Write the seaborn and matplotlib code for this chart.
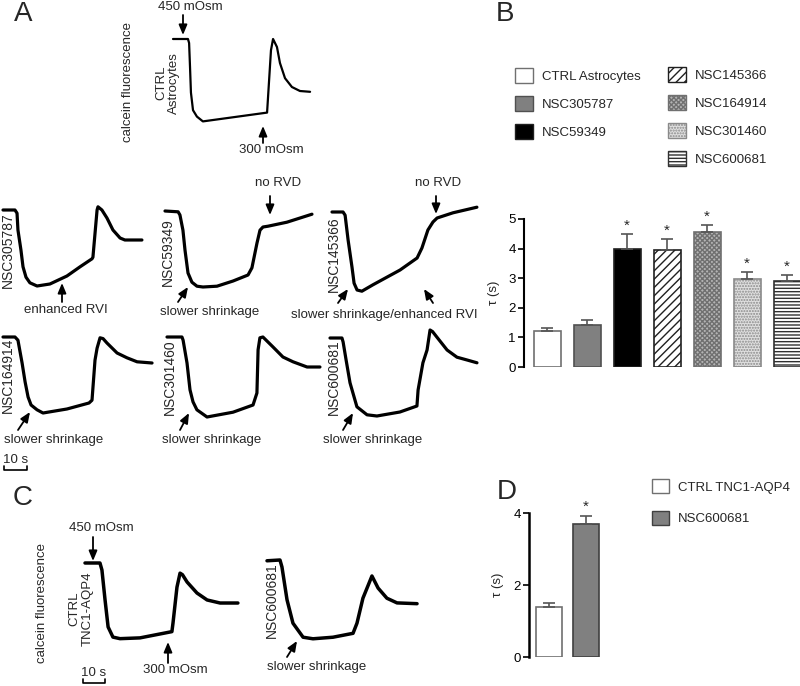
import matplotlib
matplotlib.use("Agg")
import matplotlib.pyplot as plt
import seaborn as sns
from matplotlib.patches import Patch

# ---------------- data ----------------
# Panel B: tau (s) per condition, primary astrocytes
b_groups = ["CTRL Astrocytes", "NSC305787", "NSC59349", "NSC145366",
            "NSC164914", "NSC301460", "NSC600681"]
b_tau = [1.23, 1.41, 3.98, 3.94, 4.56, 2.96, 2.90]
b_sem = [0.08, 0.17, 0.50, 0.38, 0.23, 0.24, 0.20]
b_sig = [False, False, True, True, True, True, True]
b_yticks = [0, 1, 2, 3, 4, 5]

# Panel D: tau (s), TNC1-AQP4 cells
d_groups = ["CTRL TNC1-AQP4", "NSC600681"]
d_tau = [1.40, 3.69]
d_sem = [0.09, 0.24]
d_sig = [False, True]
d_yticks = [0, 2, 4]

# Calcein traces: time (s) and normalized fluorescence
ctrl_astro_t = [0, 6.5, 7.0, 7.4, 7.8, 8.7, 10.4, 13.0, 40.9, 42.6, 43.5, 45.2, 46.5, 48.7, 51.7, 55.2, 59.6]
ctrl_astro_f = [1.0, 1.0, 0.95, 0.65, 0.33, 0.11, 0.03, -0.03, 0.08, 0.86, 1.0, 0.9, 0.7, 0.51, 0.4, 0.35, 0.34]

nsc305787_t = [0, 5.2, 6.1, 6.5, 7.8, 8.7, 10.0, 11.7, 14.8, 20.4, 27.8, 33.5, 38.7, 39.1, 40.9, 41.3, 43.0, 45.2, 47.8, 50.9, 53.0, 60.4]
nsc305787_f = [1.0, 1.0, 0.96, 0.75, 0.5, 0.29, 0.16, 0.09, 0.05, 0.075, 0.175, 0.29, 0.39, 0.41, 1.0, 1.04, 1.0, 0.9, 0.75, 0.65, 0.625, 0.625]

nsc59349_t = [0, 5.7, 6.5, 7.8, 8.7, 10.0, 11.7, 13.9, 16.5, 22.6, 29.6, 36.1, 37.8, 40.0, 41.3, 42.6, 44.8, 53.0, 63.9]
nsc59349_f = [1.0, 0.99, 0.95, 0.76, 0.51, 0.225, 0.11, 0.06, 0.05, 0.06, 0.125, 0.2, 0.29, 0.6, 0.76, 0.8, 0.81, 0.86, 0.96]

nsc145366_t = [0, 4.8, 5.7, 7.0, 8.7, 9.6, 10.9, 13.0, 17.8, 29.6, 37.0, 39.1, 41.7, 43.9, 45.7, 52.6, 63.0]
nsc145366_f = [1.0, 1.0, 0.96, 0.65, 0.31, 0.11, 0.025, 0.01, 0.09, 0.275, 0.425, 0.55, 0.775, 0.875, 0.925, 0.99, 1.06]

nsc164914_t = [0, 5.2, 6.5, 8.3, 9.6, 10.9, 12.2, 14.8, 17.4, 27.8, 37.4, 38.7, 40.0, 40.9, 42.2, 43.5, 45.2, 49.6, 53.9, 58.3, 64.8]
nsc164914_f = [1.0, 1.0, 0.96, 0.675, 0.44, 0.25, 0.15, 0.09, 0.05, 0.1, 0.175, 0.21, 0.71, 0.86, 0.99, 0.98, 0.925, 0.8, 0.74, 0.69, 0.675]

nsc301460_t = [0, 6.5, 7.0, 8.7, 10.0, 11.3, 13.0, 17.4, 28.7, 37.4, 39.1, 39.6, 40.4, 41.7, 46.1, 50.4, 54.8, 60.9, 66.5]
nsc301460_f = [1.0, 1.0, 0.96, 0.675, 0.34, 0.19, 0.09, 0.0, 0.06, 0.15, 0.3, 0.84, 0.99, 1.0, 0.875, 0.75, 0.69, 0.625, 0.625]

nsc600681a_t = [0, 5.2, 5.7, 7.0, 8.7, 11.7, 16.1, 20.4, 30.4, 37.8, 38.3, 40.4, 42.2, 43.5, 44.6, 46.5, 50.9, 55.2, 59.6, 63.9]
nsc600681a_f = [1.0, 1.0, 0.95, 0.725, 0.44, 0.14, 0.04, 0.025, 0.075, 0.15, 0.35, 0.69, 0.85, 1.1, 1.08, 1.01, 0.85, 0.76, 0.725, 0.69]

ctrl_tnc_t = [0, 6.8, 7.7, 9.1, 10.5, 12.7, 15.9, 25.0, 39.5, 40.0, 41.8, 43.2, 44.3, 46.4, 50.9, 55.5, 61.4, 69.5]
ctrl_tnc_f = [1.0, 1.0, 0.91, 0.53, 0.18, 0.05, 0.03, 0.04, 0.12, 0.23, 0.69, 0.87, 0.85, 0.756, 0.615, 0.526, 0.487, 0.487]

nsc600681c_t = [0, 5.9, 6.8, 9.1, 11.8, 16.4, 20.9, 30.0, 39.1, 40.9, 43.6, 47.7, 50.5, 54.5, 59.1, 68.2]
nsc600681c_f = [0.99, 1.0, 0.91, 0.49, 0.19, 0.01, -0.01, 0.01, 0.06, 0.19, 0.51, 0.795, 0.64, 0.51, 0.45, 0.44]

scale_bar_s = 10

# ---------------- style ----------------
sns.set_theme(style="ticks")
plt.rcParams["font.family"] = ["Liberation Sans", "DejaVu Sans"]
plt.rcParams["hatch.linewidth"] = 1.0

W, H = 800, 686
fig = plt.figure(figsize=(8, 6.86), dpi=100)
fig.patch.set_facecolor("white")

FS = 9.5

def px_axes(x0, y0, x1, y1, **kw):
    return fig.add_axes([x0 / W, 1 - y1 / H, (x1 - x0) / W, (y1 - y0) / H], **kw)

def trace_axes(x0, ytop, sx, sy, tmax=75, fmin=-0.8, fmax=1.3):
    ybot = ytop + (1 - fmin) * sy
    yt = ytop - (fmax - 1) * sy
    ax = px_axes(x0, yt, x0 + tmax * sx, ybot)
    ax.set_xlim(0, tmax)
    ax.set_ylim(fmin, fmax)
    ax.axis("off")
    return ax

def draw_trace(ax, t, f, lw):
    sns.lineplot(x=t, y=f, ax=ax, color="black", linewidth=lw,
                 estimator=None, sort=False)
    for ln in ax.lines:
        ln.set_clip_on(False)
        ln.set_solid_joinstyle("round")

# ---------------- traces ----------------
ax_ctrl = trace_axes(173, 39, 2.3, 80)
draw_trace(ax_ctrl, ctrl_astro_t, ctrl_astro_f, 1.6)

row_a = [
    (3, 210, nsc305787_t, nsc305787_f),
    (165, 211, nsc59349_t, nsc59349_f),
    (332, 212, nsc145366_t, nsc145366_f),
    (3, 337, nsc164914_t, nsc164914_f),
    (167, 337, nsc301460_t, nsc301460_f),
    (330, 338, nsc600681a_t, nsc600681a_f),
]
trace_axes_list = []
for x0, yt, t, f in row_a:
    a = trace_axes(x0, yt, 2.3, 80)
    draw_trace(a, t, f, 2.3)
    trace_axes_list.append(a)

# scale bar panel A (in the NSC164914 trace axes, time units)
a_sb = trace_axes_list[3]
a_sb.plot([0.4, 0.4, 0.4 + scale_bar_s, 0.4 + scale_bar_s], [-0.61, -0.66, -0.66, -0.61],
          color="black", lw=1.2, clip_on=False)
a_sb.text(0.4 + scale_bar_s / 2, -0.54, "10 s", ha="center", va="center", fontsize=FS)

ax_ctnc = trace_axes(85, 563, 2.2, 78)
draw_trace(ax_ctnc, ctrl_tnc_t, ctrl_tnc_f, 2.5)
ax_ctnc.plot([-0.9, -0.9, -0.9 + scale_bar_s, -0.9 + scale_bar_s], [-0.49, -0.54, -0.54, -0.49],
             color="black", lw=1.2, clip_on=False)
ax_ctnc.text(-0.9 + scale_bar_s / 2, -0.41, "10 s", ha="center", va="center", fontsize=FS)

ax_c2 = trace_axes(267, 560, 2.2, 78)
draw_trace(ax_c2, nsc600681c_t, nsc600681c_f, 2.5)

# ---------------- panel B bars ----------------
b_face = ["white", "#808080", "black", "white", "#b4b4b4", "#e0e0e0", "white"]
b_edge = ["#707070", "#505050", "#202020", "#202020", "#707070", "#8a8a8a", "#303030"]
b_hatch = [None, None, None, "////", "xxxxxxx", "......", "-----"]

axB = px_axes(524, 219, 524 + (6.36 + 0.575) * 40, 367)
sns.barplot(x=b_groups, y=b_tau, hue=b_groups, palette=b_face, legend=False,
            ax=axB, width=0.675, saturation=1, linewidth=1.2)
for p, ec, h in zip(axB.patches, b_edge, b_hatch):
    p.set_edgecolor(ec)
    if h:
        p.set_hatch(h)
axB.errorbar(range(len(b_tau)), b_tau, yerr=[[0] * len(b_sem), b_sem], fmt="none",
             ecolor="#555555", elinewidth=1.2, capsize=4, capthick=1.2, clip_on=False, zorder=3)
for i, (v, e, s) in enumerate(zip(b_tau, b_sem, b_sig)):
    if s:
        axB.text(i, v + e + 0.05, "*", ha="center", va="bottom", fontsize=11)
axB.set_xlim(-0.575, 6.36)
axB.set_ylim(0, 5)
axB.set_yticks(b_yticks)
axB.set_xticks([])
axB.set_xlabel("")
sns.despine(ax=axB, bottom=True)
axB.spines["left"].set_linewidth(1.5)
axB.spines["left"].set_color("black")
axB.tick_params(axis="y", length=4, width=1.2, labelsize=9.5, pad=2, colors="black")
axB.set_ylabel("τ (s)", fontsize=FS)
axB.yaxis.set_label_coords(-0.087, 0.5)

# legend B (two columns)
handles = [Patch(facecolor=fc, edgecolor=ec, hatch=h, linewidth=1.0, label=g)
           for g, fc, ec, h in zip(b_groups, b_face, b_edge, b_hatch)]
leg_kw = dict(loc="upper left", frameon=False, fontsize=FS, handlelength=1.36,
              handleheight=1.36, handletextpad=0.68, labelspacing=1.0,
              borderpad=0, borderaxespad=0)
fig.legend(handles=handles[:3], bbox_to_anchor=(515 / W, 1 - 68 / H), **leg_kw)
fig.legend(handles=handles[3:], bbox_to_anchor=(668 / W, 1 - 67 / H), **leg_kw)

# ---------------- panel D bars ----------------
d_face = ["white", "#808080"]
d_edge = ["#707070", "#404040"]
axD = px_axes(529, 513, 529 + (1.62 + 0.54) * 37, 657)
sns.barplot(x=d_groups, y=d_tau, hue=d_groups, palette=d_face, legend=False,
            ax=axD, width=0.68, saturation=1, linewidth=1.2)
for p, ec in zip(axD.patches, d_edge):
    p.set_edgecolor(ec)
axD.errorbar(range(len(d_tau)), d_tau, yerr=[[0] * len(d_sem), d_sem], fmt="none",
             ecolor="#555555", elinewidth=1.2, capsize=4, capthick=1.2, clip_on=False, zorder=3)
for i, (v, e, s) in enumerate(zip(d_tau, d_sem, d_sig)):
    if s:
        axD.text(i, v + e + 0.04, "*", ha="center", va="bottom", fontsize=11)
axD.set_xlim(-0.54, 1.62)
axD.set_ylim(0, 4)
axD.set_yticks(d_yticks)
axD.set_xticks([])
axD.set_xlabel("")
sns.despine(ax=axD, bottom=True)
axD.spines["left"].set_linewidth(1.8)
axD.spines["left"].set_color("black")
axD.tick_params(axis="y", length=4, width=1.2, labelsize=9.5, pad=2, colors="black")
axD.set_ylabel("τ (s)", fontsize=FS)
axD.yaxis.set_label_coords(-(529 - 504) / ((1.62 + 0.54) * 37), 0.5)

handlesD = [Patch(facecolor=fc, edgecolor=ec, linewidth=1.0, label=g)
            for g, fc, ec in zip(d_groups, d_face, d_edge)]
fig.legend(handles=handlesD, bbox_to_anchor=(652 / W, 1 - 479 / H),
           **{**leg_kw, "handlelength": 1.3, "handleheight": 1.3, "labelspacing": 1.29})

# ---------------- overlay text/arrows (pixel coords) ----------------
ov = fig.add_axes([0, 0, 1, 1], zorder=20)
ov.set_xlim(0, W)
ov.set_ylim(H, 0)
ov.axis("off")

def txt(x, y, s, fs=FS, rot=0, **kw):
    ov.text(x, y, s, fontsize=fs, rotation=rot, ha="center", va="center",
            multialignment="center", **kw)

def arrow(tail, tip):
    ov.annotate("", xy=tip, xytext=tail,
                arrowprops=dict(arrowstyle="-|>,head_length=0.6,head_width=0.25",
                                color="black", lw=1.3, shrinkA=0, shrinkB=0,
                                mutation_scale=10))

# panel letters
for lx, ly, s in [(23, 14, "A"), (505, 14, "B"), (23, 498, "C"), (507, 492, "D")]:
    txt(lx, ly, s, fs=20)

# Panel A annotations
txt(128, 82, "calcein fluorescence", rot=90)
txt(168, 83, "CTRL\nAstrocytes", rot=90, linespacing=1.1)
txt(190, 7, "450 mOsm")
arrow((183, 15), (183, 35))
txt(271, 150, "300 mOsm")
arrow((263, 143), (263, 126))

txt(8, 250, "NSC305787", fs=10, rot=90)
txt(168, 252, "NSC59349", fs=10, rot=90)
txt(334, 254, "NSC145366", fs=10, rot=90)
txt(8, 375, "NSC164914", fs=10, rot=90)
txt(170, 377, "NSC301460", fs=10, rot=90)
txt(334, 377, "NSC600681", fs=10, rot=90)

txt(66, 310, "enhanced RVI")
arrow((62, 302), (62, 283))
txt(210, 312, "slower shrinkage")
arrow((178, 302), (188, 287))
txt(278, 183, "no RVD")
arrow((270, 196), (270, 215))
txt(438, 183, "no RVD")
arrow((436, 196), (436, 214))
txt(384, 315, "slower shrinkage/enhanced RVI")
arrow((338, 303), (348, 289))
arrow((433, 303), (424, 289))

for cx, tail, tip in [(54, (18, 430), (30, 412)), (212, (180, 430), (189, 413)),
                      (373, (343, 430), (353, 413))]:
    txt(cx, 440, "slower shrinkage")
    arrow(tail, tip)

# Panel C annotations
txt(42, 603, "calcein fluorescence", rot=90)
txt(81, 609, "CTRL\nTNC1-AQP4", rot=90, linespacing=1.1)
txt(101, 528, "450 mOsm")
arrow((93, 537), (93, 561))
txt(175, 670, "300 mOsm")
arrow((168, 663), (168, 642))
txt(272, 600, "NSC600681", fs=10, rot=90)
txt(317, 667, "slower shrinkage")
arrow((287, 657), (297, 641))

fig.savefig("out.png", dpi=100, facecolor="white")
